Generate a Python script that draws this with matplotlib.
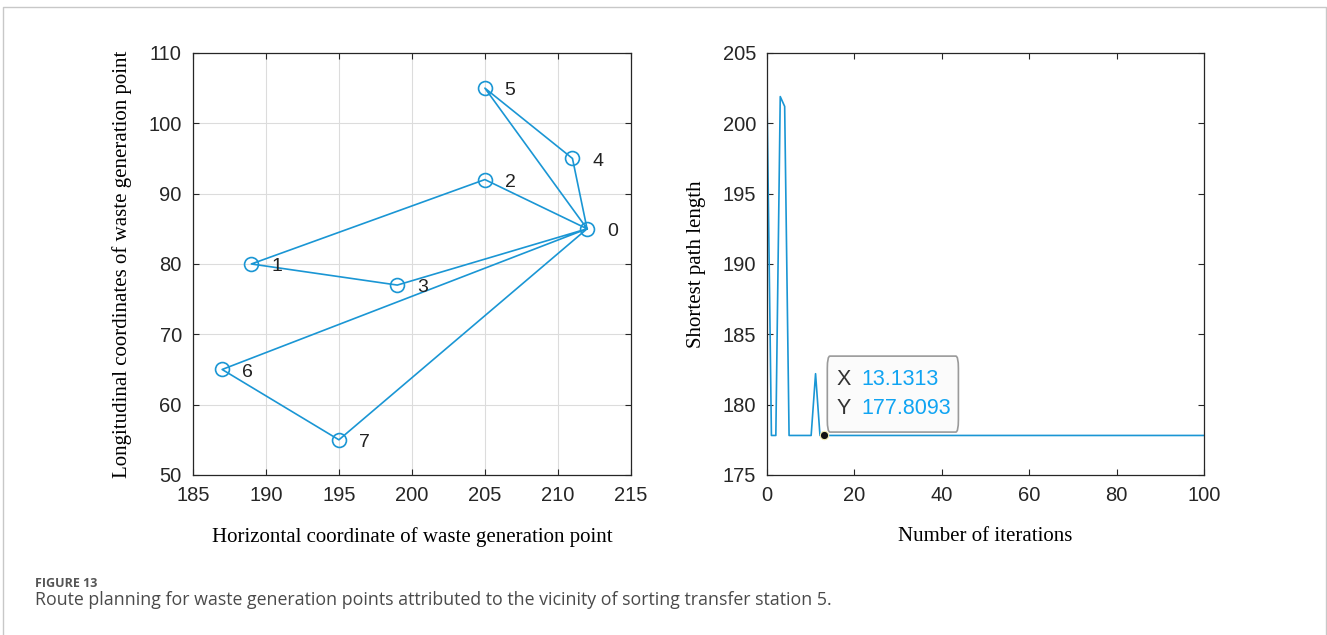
import matplotlib.pyplot as plt
import numpy as np
from matplotlib.patches import FancyBboxPatch
from matplotlib.lines import Line2D

# waste generation points (0 = transfer station)
point_ids = [0, 1, 2, 3, 4, 5, 6, 7]
point_x   = [212, 189, 205, 199, 211, 205, 187, 195]
point_y   = [85, 80, 92, 77, 95, 105, 65, 55]
route     = [0, 2, 1, 3, 0, 6, 7, 0, 4, 5, 0]

# convergence curve (100 iterations on a 0..100 axis)
n_iter = 100
best_len = [201.9, 177.8093, 177.8093, 201.9, 201.2, 177.8093, 177.8093, 177.8093,
            177.8093, 177.8093, 177.8093, 182.2] + [177.8093] * 88
tip_index = 13

blue = '#1a96d4'
plt.rcParams['font.family'] = ['Liberation Sans', 'DejaVu Sans']

fig = plt.figure(figsize=(13.27, 6.35), dpi=100)

# outer frame (open at the bottom)
x0, x1, top = 3 / 1327, 1326 / 1327, 1 - 7 / 635
fig.lines.append(Line2D([x0, x0, x1, x1], [0, top, top, 0], transform=fig.transFigure,
                        color='#c8c8c8', lw=1.0))

ax1 = fig.add_axes([0.1454, 0.252, 0.330, 0.6646])
ax2 = fig.add_axes([0.578, 0.252, 0.3293, 0.6646])

# ---- left: route ----
rx = [point_x[i] for i in route]
ry = [point_y[i] for i in route]
ax1.plot(rx, ry, color=blue, lw=1.2)
ax1.plot(point_x, point_y, 'o', mfc='none', mec=blue, ms=10, mew=1.2)
for pid, x, y in zip(point_ids, point_x, point_y):
    ax1.text(x + 1.35, y - 0.4, str(pid), fontsize=14, color='#222222', va='center', ha='left')

ax1.set_xlim(185, 215)
ax1.set_ylim(50, 110)
ax1.set_xticks(np.arange(185, 216, 5))
ax1.set_yticks(np.arange(50, 111, 10))
ax1.grid(True, color='#dcdcdc', lw=0.8)
ax1.set_axisbelow(True)
ax1.set_xlabel('Horizontal coordinate of waste generation point', family='Liberation Serif',
               fontsize=15, labelpad=16)
ax1.set_ylabel('Longitudinal coordinates of waste generation point', family='Liberation Serif',
               fontsize=15, labelpad=12)

# ---- right: convergence ----
iters = np.linspace(0, 100, n_iter)
ax2.plot(iters, best_len, color=blue, lw=1.2)
ax2.set_xlim(0, 100)
ax2.set_ylim(175, 205)
ax2.set_xticks(np.arange(0, 101, 20))
ax2.set_yticks(np.arange(175, 206, 5))
ax2.set_xlabel('Number of iterations', family='Liberation Serif', fontsize=15, labelpad=16)
ax2.set_ylabel('Shortest path length', family='Liberation Serif', fontsize=15, labelpad=12)

tx, ty = iters[tip_index], best_len[tip_index]
ax2.plot(tx, ty, 'o', color='#111111', mec='#f3eeb0', ms=6, mew=0.8, zorder=5)
tip = FancyBboxPatch((13.8, 178.05), 30.0, 5.4, boxstyle='round,pad=0,rounding_size=0.6',
                     mutation_aspect=5.4 / 30.0 * 8, facecolor='#fbfbfb', edgecolor='#9a9a9a',
                     lw=1.2, zorder=4)
ax2.add_patch(tip)
ax2.text(16.0, 181.8, 'X', fontsize=15.5, color='#333333', va='center', zorder=6)
ax2.text(21.6, 181.8, f'{tx:.4f}', fontsize=15.5, color='#10a4f2', va='center', zorder=6)
ax2.text(16.0, 179.7, 'Y', fontsize=15.5, color='#333333', va='center', zorder=6)
ax2.text(21.6, 179.7, f'{ty:.4f}', fontsize=15.5, color='#10a4f2', va='center', zorder=6)

for ax in (ax1, ax2):
    ax.tick_params(direction='in', top=True, right=True, labelsize=14.5, colors='#262626',
                   length=4, width=0.8, pad=8)
    for s in ax.spines.values():
        s.set_color('#262626')
        s.set_linewidth(0.9)

fig.text(35 / 1327, 1 - 587 / 635, 'FIGURE 13', fontsize=9, color='#555555', family='Open Sans',
         weight='bold', va='baseline')
fig.text(35 / 1327, 1 - 605 / 635,
         'Route planning for waste generation points attributed to the vicinity of sorting transfer station 5.',
         fontsize=12.8, color='#4a4a4a', family='Open Sans', va='baseline')

fig.savefig('out.png', dpi=100)
